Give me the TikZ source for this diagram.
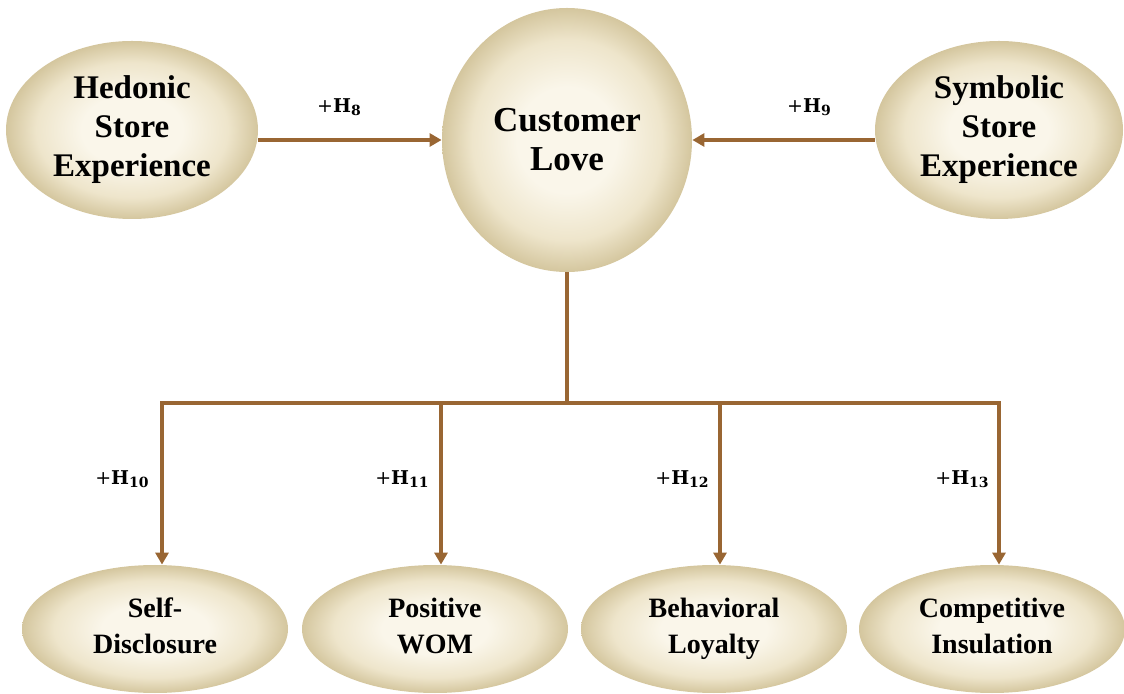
\documentclass[tikz,border=0pt]{standalone}
\usepackage{fontspec}
\setmainfont{Liberation Serif}
\newfontfamily\hypfont{DejaVu Serif}
\usetikzlibrary{shapes.geometric,arrows.meta}

\definecolor{cinner}{RGB}{250,246,234}
\definecolor{cmid}{RGB}{238,229,203}
\definecolor{couter}{RGB}{212,198,158}
\definecolor{link}{RGB}{153,102,51}

% soft cream-to-tan fill for the constructs
\pgfdeclareradialshading{creamfill}{\pgfpoint{0bp}{0bp}}{%
  color(0bp)=(cinner); color(10bp)=(cinner); color(19bp)=(cmid);
  color(25bp)=(couter); color(50bp)=(couter)}

% hypothesis label: +H with a subscript number
\newcommand{\hyplabel}[1]{+\textbf{H\raisebox{-1.6pt}{\fontsize{7}{7}\selectfont #1}}}

\tikzset{
  construct/.style={ellipse, shading=creamfill, inner sep=0pt, align=center,
    font=\bfseries\fontsize{16.5}{19.5}\selectfont},
  outcome/.style={construct, minimum width=133pt, minimum height=64pt,
    font=\bfseries\fontsize{14}{18}\selectfont,
    execute at end node=\vphantom{y}},
  conn/.style={draw=link, line width=2pt},
  arr/.style={conn, -{Triangle[length=6pt,width=6.5pt]}},
  hyp/.style={inner sep=0pt, font=\hypfont\fontsize{9.5}{11}\selectfont},
}

\begin{document}
\begin{tikzpicture}[x=0.5pt, y=-0.5pt]
\useasboundingbox (0,0) rectangle (1124,694);

% antecedents and the central construct
\node[construct, minimum width=126pt, minimum height=89pt] (hed) at (132,130)
  {Hedonic\\Store\\Experience};
\node[construct, minimum width=124pt, minimum height=89pt] (sym) at (999,130)
  {Symbolic\\Store\\Experience};
\node[construct, minimum width=125pt, minimum height=132pt,
      font=\bfseries\fontsize{17.5}{19.5}\selectfont] (love) at (567,140)
  {Customer\\Love};

% outcomes
\node[outcome] (sd)  at (155,629) {Self-\\Disclosure};
\node[outcome] (wom) at (435,629) {Positive\\WOM};
\node[outcome] (bl)  at (714,629) {Behavioral\\Loyalty};
\node[outcome] (ci)  at (992,629) {Competitive\\Insulation};

% incoming paths
\draw[arr] (hed.east |- love.west) -- (love.west);
\draw[arr] (sym.west |- love.east) -- (love.east);

% distribution bus to the outcomes
\coordinate (bus) at (567,403);
\coordinate (b1) at (162,403);
\coordinate (b2) at (441,403);
\coordinate (b3) at (720,403);
\coordinate (b4) at (999,403);
\draw[conn] (love.south) -- (bus);
\draw[conn, line cap=rect] (b1) -- (b4);
\draw[arr] (b1) -- (b1 |- sd.north);
\draw[arr] (b2) -- (b2 |- wom.north);
\draw[arr] (b3) -- (b3 |- bl.north);
\draw[arr] (b4) -- (b4 |- ci.north);

% hypothesis labels
\node[hyp] (h8)  at (339,107) {\hyplabel{8}};
\node[hyp] (h9)  at (809,107) {\hyplabel{9}};
\node[hyp] (h10) at (122,479) {\hyplabel{10}};
\node[hyp] (h11) at (402,479) {\hyplabel{11}};
\node[hyp] (h12) at (682,479) {\hyplabel{12}};
\node[hyp] (h13) at (962,479) {\hyplabel{13}};
\end{tikzpicture}
\end{document}
